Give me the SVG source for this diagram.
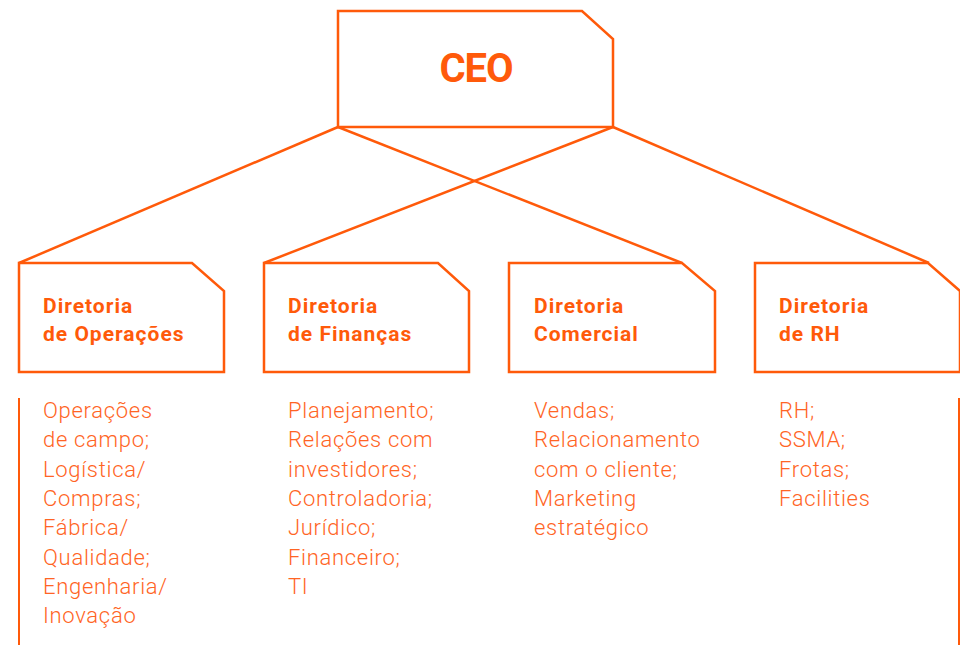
<svg xmlns="http://www.w3.org/2000/svg" width="960" height="645" viewBox="0 0 960 645">
<style>
.box{fill:#fff;stroke:#FF5A0A;stroke-width:2.5;stroke-linejoin:miter}
.ln{fill:none;stroke:#FF5A0A;stroke-width:2.5}
.side{fill:none;stroke:#FF5A0A;stroke-width:2}
.ceo{font-family:Roboto,"Liberation Sans",sans-serif;font-weight:700;font-size:40px;letter-spacing:-1px;fill:#FF5A0A;text-anchor:middle}
.dir{font-family:Roboto,"Liberation Sans",sans-serif;font-weight:700;font-size:21px;letter-spacing:1px;fill:#FF5A0A}
.item{font-family:Roboto,"Liberation Sans",sans-serif;font-weight:300;font-size:22px;letter-spacing:0.7px;fill:#FF6424}
</style>
<g id="connectors">
<line class="ln" x1="338" y1="127" x2="19" y2="263"/>
<line class="ln" x1="338" y1="127" x2="682" y2="263"/>
<line class="ln" x1="613" y1="127" x2="264" y2="263"/>
<line class="ln" x1="613" y1="127" x2="929" y2="263"/>
<line class="side" x1="19" y1="398" x2="19" y2="645"/>
<line class="side" x1="959" y1="398" x2="959" y2="645"/>
</g>
<g id="ceo">
<path class="box" d="M338 11 H582 L613 39 V127 H338 Z"/>
<text class="ceo" x="476" y="82">CEO</text>
</g>
<g id="dir-operacoes">
<path class="box" d="M19 263 H192 L224 291 V372 H19 Z"/>
<text class="dir" x="43" y="313">Diretoria</text>
<text class="dir" x="43" y="341">de Operações</text>
</g>
<g id="dir-financas">
<path class="box" d="M264 263 H438 L469 291 V372 H264 Z"/>
<text class="dir" x="288" y="313">Diretoria</text>
<text class="dir" x="288" y="341">de Finanças</text>
</g>
<g id="dir-comercial">
<path class="box" d="M509 263 H682 L715 291 V372 H509 Z"/>
<text class="dir" x="534" y="313">Diretoria</text>
<text class="dir" x="534" y="341">Comercial</text>
</g>
<g id="dir-rh">
<path class="box" d="M755 263 H928 L960 291 V372 H755 Z"/>
<text class="dir" x="779" y="313">Diretoria</text>
<text class="dir" x="779" y="341">de RH</text>
</g>
<g id="list-operacoes">
<text class="item" x="43" y="418">Operações</text>
<text class="item" x="43" y="447">de campo;</text>
<text class="item" x="43" y="477">Logística/</text>
<text class="item" x="43" y="506">Compras;</text>
<text class="item" x="43" y="535">Fábrica/</text>
<text class="item" x="43" y="565">Qualidade;</text>
<text class="item" x="43" y="594">Engenharia/</text>
<text class="item" x="43" y="623">Inovação</text>
</g>
<g id="list-financas">
<text class="item" x="288" y="418">Planejamento;</text>
<text class="item" x="288" y="447">Relações com</text>
<text class="item" x="288" y="477">investidores;</text>
<text class="item" x="288" y="506">Controladoria;</text>
<text class="item" x="288" y="535">Jurídico;</text>
<text class="item" x="288" y="565">Financeiro;</text>
<text class="item" x="288" y="594">TI</text>
</g>
<g id="list-comercial">
<text class="item" x="534" y="418">Vendas;</text>
<text class="item" x="534" y="447">Relacionamento</text>
<text class="item" x="534" y="477">com o cliente;</text>
<text class="item" x="534" y="506">Marketing</text>
<text class="item" x="534" y="535">estratégico</text>
</g>
<g id="list-rh">
<text class="item" x="779" y="418">RH;</text>
<text class="item" x="779" y="447">SSMA;</text>
<text class="item" x="779" y="477">Frotas;</text>
<text class="item" x="779" y="506">Facilities</text>
</g>
</svg>
